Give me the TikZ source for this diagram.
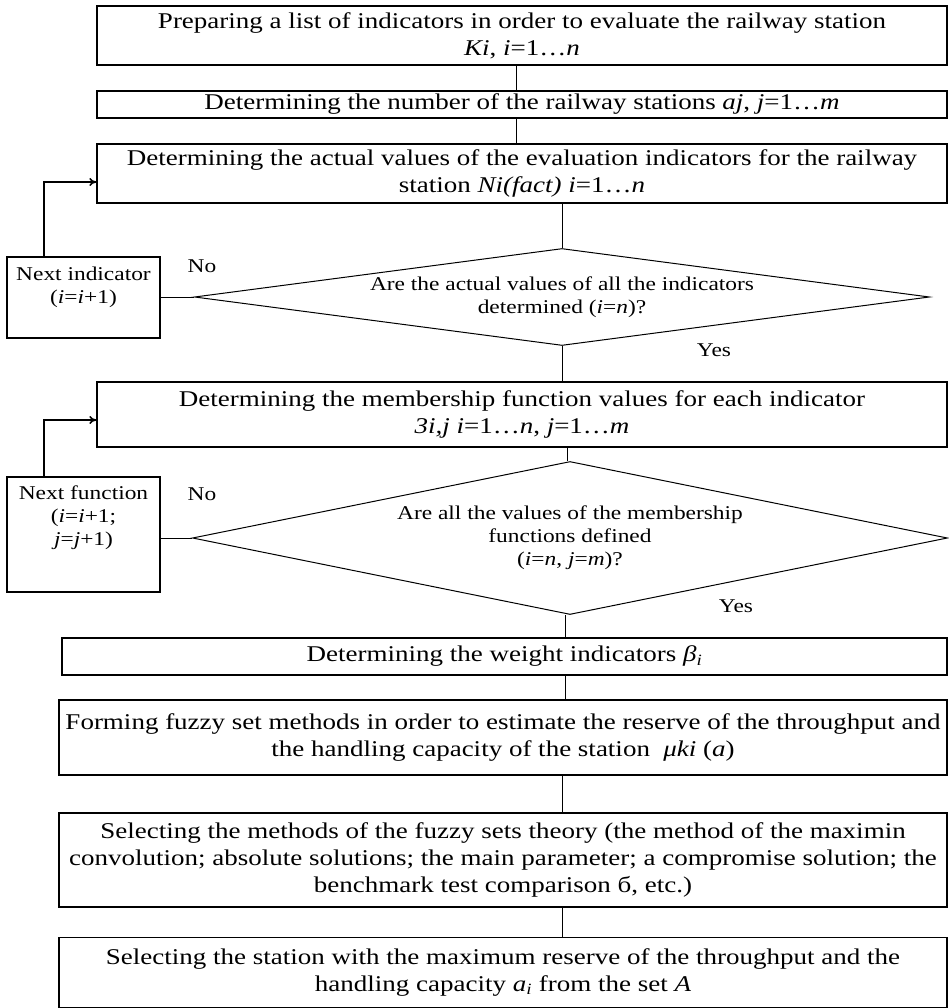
\documentclass[tikz,border=0pt]{standalone}
\usepackage{fontspec}
\setmainfont{Liberation Serif}[FakeStretch=1.2]
\usetikzlibrary{shapes.geometric,positioning,calc,arrows.meta}

\newcommand{\stagefont}{\fontsize{22.5}{27}\selectfont}
\newcommand{\notefont}{\fontsize{19.5}{23}\selectfont}

\tikzset{
    stage/.style={draw, rectangle, line width=1.4pt, align=center, inner sep=0pt, font=\stagefont},
    check/.style={draw, diamond, line width=1pt, align=center, inner sep=0pt, font=\notefont},
    loopbox/.style={draw, rectangle, line width=1.4pt, align=center, inner sep=0pt, font=\notefont},
    answer/.style={font=\notefont},
    link/.style={line width=0.8pt},
    back/.style={line width=1.6pt, -{To[length=7pt,width=8pt]}}
}

\begin{document}
\begin{tikzpicture}[x=1pt, y=-1pt]
    \useasboundingbox (0,0) rectangle (948,1008);

    \node[stage, minimum width=850, minimum height=59] (prep) at (522,35.5)
        {Preparing a list of indicators in order to evaluate the railway station\\\textit{Ki}, \textit{i}=1…\textit{n}};
    \node[stage, minimum width=850, minimum height=27] (count) at (522,104.5)
        {Determining the number of the railway stations \textit{aj}, \textit{j}=1…\textit{m}};
    \node[stage, minimum width=850, minimum height=59] (actual) at (522,173.5)
        {Determining the actual values of the evaluation indicators for the railway\\station \textit{Ni(fact) i}=1…\textit{n}};

    \node[check, aspect=7.58, minimum width=735, minimum height=97] (done1) at (562,297)
        {Are the actual values of all the indicators\\determined (\textit{i}=\textit{n})?};
    \node[loopbox, minimum width=153, minimum height=81] (next1) at (83.5,297.5)
        {Next indicator\\(\textit{i}=\textit{i}+1)\\[2pt]\mbox{}};

    \node[stage, minimum width=850, minimum height=65] (member) at (522,414.5)
        {Determining the membership function values for each indicator\\\textit{3i,j i}=1…\textit{n}, \textit{j}=1…\textit{m}};

    \node[check, aspect=4.93, minimum width=755, minimum height=153] (done2) at (570,538)
        {Are all the values of the membership\\functions defined\\(\textit{i}=\textit{n}, \textit{j}=\textit{m})?};
    \node[loopbox, minimum width=153, minimum height=115] (next2) at (83.5,534.5)
        {Next function\\(\textit{i}=\textit{i}+1;\\\textit{j}=\textit{j}+1)\\[14pt]\mbox{}};

    \node[stage, minimum width=885, minimum height=37] (weight) at (504.5,656.5)
        {Determining the weight indicators \textit{β}\textsubscript{\textit{i}}};
    \node[stage, minimum width=888, minimum height=75] (fuzzy) at (503,737.5)
        {Forming fuzzy set methods in order to estimate the reserve of the throughput and\\the handling capacity of the station \ \textit{μki} (\textit{a})};
    \node[stage, minimum width=888, minimum height=94] (methods) at (503,860)
        {Selecting the methods of the fuzzy sets theory (the method of the maximin\\convolution; absolute solutions; the main parameter; a compromise solution; the\\benchmark test comparison б, etc.)};
    \node[stage, minimum width=888, minimum height=70] (best) at (503,972.5)
        {Selecting the station with the maximum reserve of the throughput and the\\handling capacity \textit{a}\textsubscript{\textit{i}} from the set \textit{A}};

    % answers at the decisions
    \node[answer] (no1) at (202,266) {No};
    \node[answer] (yes1) at (714,350) {Yes};
    \node[answer] (no2) at (202,494) {No};
    \node[answer] (yes2) at (736,606) {Yes};

    % main line
    \draw[link] ([xshift=-6pt]prep.south) -- ([xshift=-6pt]count.north);
    \draw[link] ([xshift=-6pt]count.south) -- ([xshift=-6pt]actual.north);
    \draw[link] (done1.north |- actual.south) -- (done1.north);
    \draw[link] (done1.south) -- (done1.south |- member.north);
    \draw[link] ([xshift=-3pt]done2.north |- member.south) -- ([xshift=-3pt]done2.north);
    \draw[link] ([xshift=-5pt]done2.south) -- ([xshift=-5pt]done2.south |- weight.north);
    \draw[link] ([xshift=-5pt]done2.south |- weight.south) -- ([xshift=-5pt]done2.south |- fuzzy.north);
    \draw[link] (done1.south |- fuzzy.south) -- (done1.south |- methods.north);
    \draw[link] (done1.south |- methods.south) -- (done1.south |- best.north);

    % loops back
    \draw[link] (next1.east |- done1.west) -- (done1.west);
    \draw[back] ([xshift=-39.5pt]next1.north) |- ([yshift=-8.5pt]actual.west);
    \draw[link] (next2.east |- done2.west) -- (done2.west);
    \draw[back] ([xshift=-39.5pt]next2.north) |- ([yshift=-5.5pt]member.west);
\end{tikzpicture}
\end{document}
